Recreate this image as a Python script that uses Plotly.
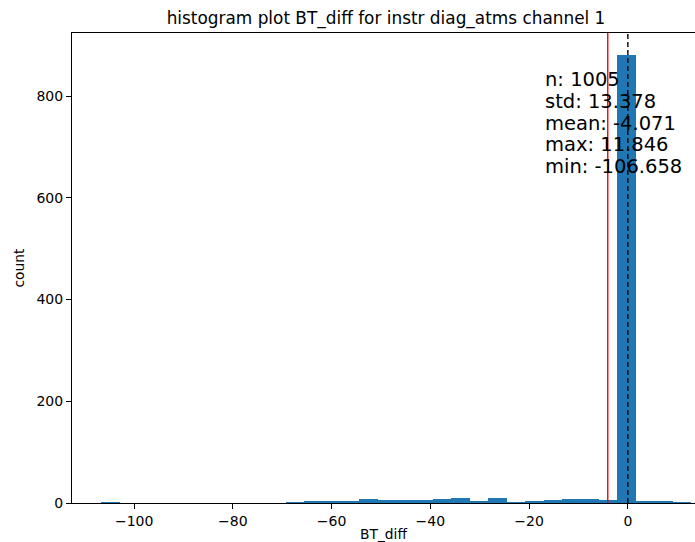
import numpy as np
import plotly.graph_objects as go

# ---- data ----
data_min = -106.658
bin_width = 3.733
n_bins = 32
bin_counts = [1, 0, 0, 0, 0, 0, 0, 0, 0, 0,
              1, 2, 4, 4, 8, 5, 5, 5, 7, 10,
              2, 10, 1, 3, 6, 8, 8, 6, 880, 2,
              2, 1]
data_max = 11.846
mean_val = -4.071
ref_val = 0.0
stat_lines = ["n: 1005", "std: 13.378", "mean: -4.071", "max: 11.846", "min: -106.658"]
x_ticks = [-100, -80, -60, -40, -20, 0]
y_ticks = [0, 200, 400, 600, 800]

edges = data_min + bin_width * np.arange(n_bins + 1)
centers = (edges[:-1] + edges[1:]) / 2

span = data_max - data_min
x_lo = data_min - 0.05 * span
x_hi = 13.6
y_hi = max(bin_counts) * 1.05

FONT = "DejaVu Sans"
L, R, T, B, W, H = 72, 0, 33, 39, 695, 542

fig = go.Figure()
fig.add_trace(go.Bar(x=centers, y=bin_counts, width=bin_width,
                     marker=dict(color="#1f77b4", line=dict(width=0)),
                     showlegend=False, hoverinfo="skip"))

fig.add_shape(type="line", xref="x", yref="paper", x0=mean_val, x1=mean_val, y0=0, y1=1,
              line=dict(color="red", width=1.4))
fig.add_shape(type="line", xref="x", yref="paper", x0=ref_val, x1=ref_val, y0=0, y1=1,
              line=dict(color="black", width=1.4, dash="5px,3px"))

for i, s in enumerate(stat_lines):
    fig.add_annotation(x=-17.25, y=832, xref="x", yref="y", text=s, showarrow=False,
                       xanchor="left", yanchor="middle", yshift=-21.6 * i,
                       font=dict(family=FONT, size=19.5, color="black"))

fig.update_layout(
    width=W, height=H,
    margin=dict(l=L, r=R, t=T, b=B, autoexpand=False),
    paper_bgcolor="white", plot_bgcolor="white",
    bargap=0,
    font=dict(family=FONT, size=14, color="black"),
    title=dict(text="histogram plot BT_diff for instr diag_atms channel 1",
               xref="paper", x=(386 - L) / (W - L - R), xanchor="center",
               y=1 - 18 / H, yanchor="middle",
               font=dict(family=FONT, size=16.9, color="black")),
    xaxis=dict(range=[x_lo, x_hi], tickvals=x_ticks, ticks="outside", ticklen=5, tickwidth=1,
               tickcolor="black", showline=True, linecolor="black", linewidth=1, mirror=True,
               showgrid=False, zeroline=False, automargin=False,
               title=dict(text="BT_diff", standoff=9, font=dict(family=FONT, size=13.8))),
    yaxis=dict(range=[0, y_hi], tickvals=y_ticks, ticks="outside", ticklen=5, tickwidth=1,
               tickcolor="black", showline=True, linecolor="black", linewidth=1,
               showgrid=False, zeroline=False, automargin=False,
               title=dict(text="count", standoff=8, font=dict(family=FONT, size=13.8))),
)

fig.write_html("out.html")
